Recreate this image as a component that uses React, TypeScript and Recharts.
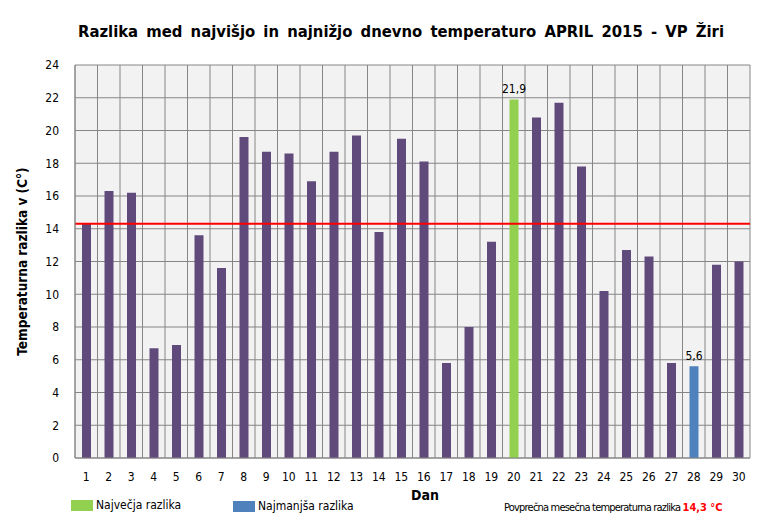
import React from "react";
import {
  Bar,
  BarChart,
  CartesianGrid,
  Cell,
  LabelList,
  ReferenceLine,
  XAxis,
  YAxis,
} from "recharts";

const days = [
  "1", "2", "3", "4", "5", "6", "7", "8", "9", "10",
  "11", "12", "13", "14", "15", "16", "17", "18", "19", "20",
  "21", "22", "23", "24", "25", "26", "27", "28", "29", "30",
];

// daily max - min temperature (°C)
const ranges = [
  14.3, 16.3, 16.2, 6.7, 6.9, 13.6, 11.6, 19.6, 18.7, 18.6,
  16.9, 18.7, 19.7, 13.8, 19.5, 18.1, 5.8, 8.0, 13.2, 21.9,
  20.8, 21.7, 17.8, 10.2, 12.7, 12.3, 5.8, 5.6, 11.8, 12.0,
];

const yTicks = [0, 2, 4, 6, 8, 10, 12, 14, 16, 18, 20, 22, 24];
const monthlyMean = 14.3;

const maxDay = "20";
const minDay = "28";

const COLOR_BAR = "#604A7B";
const COLOR_MAX = "#92D050";
const COLOR_MIN = "#4F81BD";
const FONT = "Tahoma, 'DejaVu Sans Condensed', 'DejaVu Sans', sans-serif";

const data = days.map((d, i) => ({ day: d, value: ranges[i] }));

function barColor(day: string) {
  if (day === maxDay) return COLOR_MAX;
  if (day === minDay) return COLOR_MIN;
  return COLOR_BAR;
}

const fmt = (v: number) => v.toFixed(1).replace(".", ",");

function ExtremeLabel(props: any) {
  const { x, y, width, value, index } = props;
  const day = days[index];
  if (day !== maxDay && day !== minDay) return null;
  return (
    <text
      x={Number(x) + Number(width) / 2}
      y={Number(y) - 6}
      textAnchor="middle"
      fontSize={12}
      fontFamily={FONT}
      fill="#000"
    >
      {fmt(Number(value))}
    </text>
  );
}

function boundaryLines({ offset }: any) {
  const n = days.length;
  const step = offset.width / n;
  const xs: number[] = [];
  for (let i = 0; i <= n; i++) xs.push(offset.left + i * step);
  return xs;
}

export default function App() {
  return (
    <div style={{ position: "absolute", left: 0, top: 0, width: 770, height: 518, background: "#fff", fontFamily: FONT }}>
      <div
        style={{
          position: "absolute",
          left: 16,
          top: 22,
          width: 770,
          textAlign: "center",
          fontWeight: "bold",
          fontSize: 16.5,
          wordSpacing: 3,
          color: "#000",
        }}
      >
        Razlika med najvišjo in najnižjo dnevno temperaturo APRIL 2015 - VP Žiri
      </div>
      <BarChart
        width={770}
        height={518}
        data={data}
        margin={{ top: 65, right: 20, bottom: 30, left: 0 }}
        barCategoryGap={0}
      >
        <CartesianGrid
          fill="#F2F2F2"
          stroke="#868686"
          strokeWidth={1}
          verticalCoordinatesGenerator={boundaryLines}
        />
        <XAxis
          dataKey="day"
          height={30}
          tickLine={false}
          axisLine={{ stroke: "#868686" }}
          tickMargin={8}
          interval={0}
          tick={{ fontSize: 12, fill: "#000", fontFamily: FONT }}
        />
        <YAxis
          width={75}
          domain={[0, 24]}
          ticks={yTicks}
          interval={0}
          tickLine={false}
          axisLine={{ stroke: "#868686" }}
          tickMargin={10}
          tick={{ fontSize: 12, fill: "#000", fontFamily: FONT }}
          label={{
            value: "Temperaturna razlika v (C°)",
            angle: -90,
            position: "insideLeft",
            offset: 22,
            style: { textAnchor: "middle", fontWeight: "bold", fontSize: 13.5, fill: "#000", fontFamily: FONT },
          }}
        />
        <Bar dataKey="value" barSize={9} isAnimationActive={false}>
          {data.map((d) => (
            <Cell key={d.day} fill={barColor(d.day)} />
          ))}
          <LabelList dataKey="value" content={ExtremeLabel} />
        </Bar>
        <ReferenceLine y={monthlyMean} stroke="#FF0000" strokeWidth={2} ifOverflow="extendDomain" />
      </BarChart>
      <div style={{ position: "absolute", left: 411, top: 487, fontWeight: "bold", fontSize: 14 }}>
        Dan
      </div>
      <div style={{ position: "absolute", left: 71, top: 498, display: "flex", alignItems: "center", fontSize: 12 }}>
        <span style={{ display: "inline-block", width: 22, height: 11, background: COLOR_MAX, marginRight: 3 }} />
        Največja razlika
      </div>
      <div style={{ position: "absolute", left: 233, top: 499, display: "flex", alignItems: "center", fontSize: 12 }}>
        <span style={{ display: "inline-block", width: 22, height: 11, background: COLOR_MIN, marginRight: 3 }} />
        Najmanjša razlika
      </div>
      <div style={{ position: "absolute", left: 504, top: 501, fontSize: 11, letterSpacing: -0.8, whiteSpace: "nowrap" }}>
        Povprečna mesečna temperaturna razlika{" "}
        <span style={{ color: "#FF0000", fontWeight: "bold", letterSpacing: 0 }}>{fmt(monthlyMean)} °C</span>
      </div>
    </div>
  );
}
